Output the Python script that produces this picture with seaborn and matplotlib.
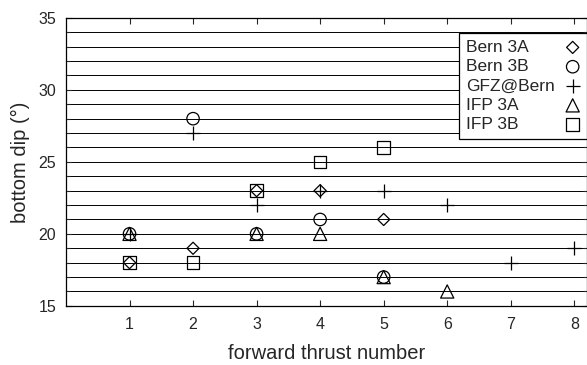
import matplotlib
matplotlib.use('Agg')
import matplotlib.pyplot as plt
from matplotlib.ticker import MultipleLocator
import pandas as pd
import seaborn as sns

# valores
bern3a_x = [1, 2, 3, 4, 5]
bern3a_y = [18, 19, 23, 23, 21]
bern3b_x = [1, 2, 3, 4, 5]
bern3b_y = [20, 28, 20, 21, 17]
gfz_x = [1, 2, 3, 4, 5, 6, 7, 8]
gfz_y = [20, 27, 22, 23, 23, 22, 18, 19]
ifp3a_x = [1, 3, 4, 5, 6]
ifp3a_y = [20, 20, 20, 17, 16]
ifp3b_x = [1, 2, 3, 4, 5]
ifp3b_y = [18, 18, 23, 25, 26]

series = [
    ('Bern 3A', bern3a_x, bern3a_y, 'D', 38),
    ('Bern 3B', bern3b_x, bern3b_y, 'o', 80),
    ('GFZ@Bern', gfz_x, gfz_y, '+', 110),
    ('IFP 3A', ifp3a_x, ifp3a_y, '^', 90),
    ('IFP 3B', ifp3b_x, ifp3b_y, 's', 80),
]

sns.set_style('ticks')
plt.rcParams['font.family'] = ['Liberation Sans', 'DejaVu Sans']

fig = plt.figure(figsize=(5.87, 3.65), dpi=100)
ax = fig.add_axes([0.1124, 0.162, 0.8876, 0.789])

for nome, xs, ys, mk, tam in series:
    df = pd.DataFrame({'x': xs, 'y': ys})
    if mk == '+':
        sns.scatterplot(data=df, x='x', y='y', marker=mk, s=tam, color='black',
                        linewidth=0.9, label=nome, ax=ax, zorder=3)
    else:
        sns.scatterplot(data=df, x='x', y='y', marker=mk, s=tam, facecolor='none',
                        edgecolor='black', linewidth=0.9, label=nome, ax=ax, zorder=3)

ax.set_xlim(0, 8.2)
ax.set_ylim(15, 35)
ax.set_xticks(range(1, 9))
ax.yaxis.set_major_locator(MultipleLocator(5))
ax.yaxis.set_minor_locator(MultipleLocator(1))
ax.grid(axis='y', which='both', color='black', linewidth=0.7)
ax.tick_params(direction='in', top=True, right=True, which='both', labelsize=11.5,
               length=4, width=0.8)
ax.tick_params(axis='x', pad=8)
ax.tick_params(axis='y', pad=7)
ax.tick_params(which='minor', length=3)
for sp in ax.spines.values():
    sp.set_linewidth(0.9)
    sp.set_color('black')

ax.set_xlabel('forward thrust number', fontsize=14.5, labelpad=9)
ax.set_ylabel('bottom dip (°)', fontsize=14.5, labelpad=6)

leg = ax.legend(loc='upper right', bbox_to_anchor=(1.0, 0.948), borderaxespad=0,
                markerfirst=False, fontsize=12.5, frameon=True, fancybox=False,
                handletextpad=0.6, handlelength=0.85, labelspacing=0.24,
                borderpad=0.4, framealpha=1)
leg.get_frame().set_edgecolor('black')
leg.get_frame().set_linewidth(0.9)

# textos da legenda alinhados à esquerda, marcadores numa coluna à direita
fig.canvas.draw()
rend = fig.canvas.get_renderer()
larguras = [t.get_window_extent(rend).width * 72 / fig.dpi for t in leg.get_texts()]
maxw = max(larguras)
linhas = leg._legend_handle_box.get_children()[0].get_children()
for linha, w in zip(linhas, larguras):
    linha.sep = linha.sep + (maxw - w)

fig.savefig('out.png', dpi=100)
